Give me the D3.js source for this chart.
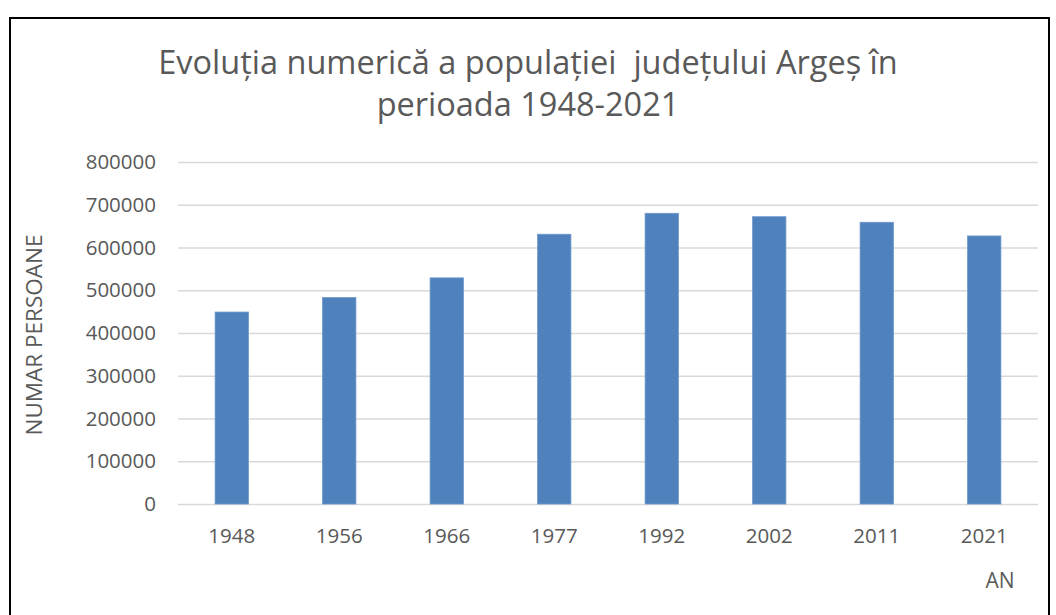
<!DOCTYPE html>
<html lang="ro">
<head>
<meta charset="UTF-8" />
<title>Evoluția numerică a populației județului Argeș</title>
<script src="https://cdn.jsdelivr.net/npm/d3@7"></script>
<style>
  body { margin: 0; background: #fff; }
  text { font-family: "Open Sans", "Noto Sans", sans-serif; fill: #595959; }
</style>
</head>
<body>
<svg width="1056" height="615" id="svg"></svg>
<script>
const years = ["1948", "1956", "1966", "1977", "1992", "2002", "2011", "2021"]
const population = [449000, 483000, 529000, 631000, 680000, 672000, 659000, 627000]
const yTicks = [0, 100000, 200000, 300000, 400000, 500000, 600000, 700000, 800000]
const titleLines = ["Evoluția numerică a populației  județului Argeș în", "perioada 1948-2021"]

const svg = d3.select("#svg")
const margin = { top: 162, left: 178, right: 18, bottom: 111 }
const width = +svg.attr("width")
const height = +svg.attr("height")
const innerW = width - margin.left - margin.right
const innerH = height - margin.top - margin.bottom

// chart frame
svg.append("rect")
  .attr("x", 10).attr("y", 18)
  .attr("width", 1039).attr("height", 620)
  .attr("fill", "none").attr("stroke", "#000").attr("stroke-width", 2)

svg.append("text")
  .attr("x", 528).attr("y", 74)
  .attr("text-anchor", "middle")
  .style("font-size", "32.5px")
  .style("white-space", "pre")
  .selectAll("tspan")
  .data(titleLines)
  .join("tspan")
  .attr("x", 528)
  .attr("dy", (d, i) => i ? 42 : 0)
  .text(d => d)

const g = svg.append("g").attr("transform", `translate(${margin.left},${margin.top})`)

const x = d3.scaleBand().domain(years).range([0, innerW]).paddingInner(0.69).paddingOuter(0.345)
const y = d3.scaleLinear().domain([0, 800000]).range([innerH, 0])

const yAxis = g.append("g")
  .call(d3.axisLeft(y).tickValues(yTicks).tickSize(-innerW).tickPadding(22).tickFormat(d3.format("d")))
yAxis.select(".domain").remove()
yAxis.selectAll(".tick line").attr("stroke", "#d9d9d9").attr("stroke-width", 1.5)
yAxis.selectAll(".tick text").style("font-size", "20.5px").attr("fill", "#595959")

g.selectAll(".bar")
  .data(population)
  .join("rect")
  .attr("class", "bar")
  .attr("x", (d, i) => x(years[i]))
  .attr("y", d => y(d))
  .attr("width", x.bandwidth())
  .attr("height", d => innerH - y(d))
  .attr("fill", "#4f81bd")
  .attr("stroke", "#6f98cc")
  .attr("stroke-width", 0.8)

const xAxis = g.append("g")
  .attr("transform", `translate(0,${innerH})`)
  .call(d3.axisBottom(x).tickSize(0).tickPadding(24))
xAxis.select(".domain").remove()
xAxis.selectAll(".tick text").style("font-size", "20.5px").attr("fill", "#595959")

svg.append("text")
  .attr("x", 1000).attr("y", 588)
  .attr("text-anchor", "middle")
  .style("font-size", "21px")
  .text("AN")

svg.append("text")
  .attr("transform", "translate(42,335) rotate(-90)")
  .attr("text-anchor", "middle")
  .style("font-size", "22.5px")
  .text("NUMAR PERSOANE")
</script>
</body>
</html>
